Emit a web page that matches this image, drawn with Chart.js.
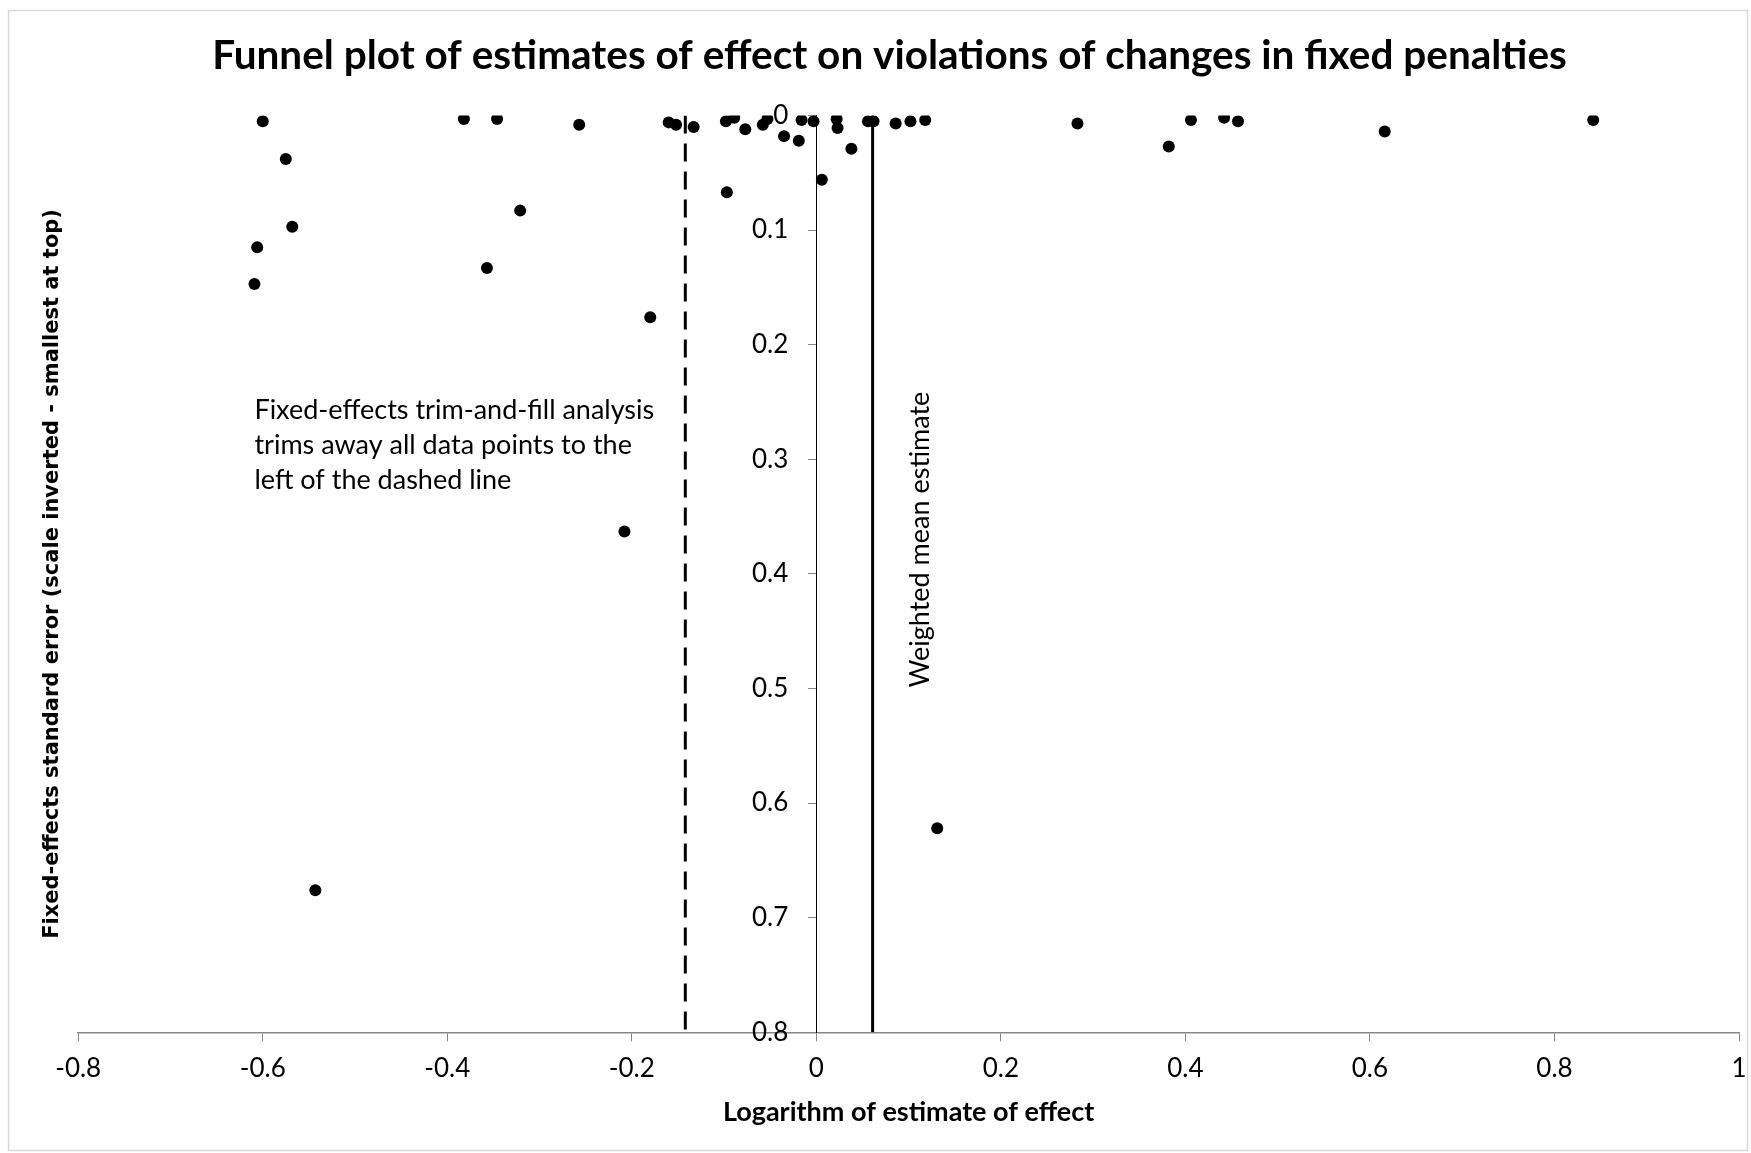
<!DOCTYPE html>
<html>
<head>
<meta charset="utf-8">
<title>Funnel plot</title>
<script src="https://cdn.jsdelivr.net/npm/chart.js@4.4.1/dist/chart.umd.min.js"></script>
<style>
    body { margin: 0; background: #fff; }
    #chart { display: block; }
</style>
</head>
<body>
<canvas id="chart" width="1751" height="1153"></canvas>
<script>
// one point per study: log of the estimate and its fixed-effects standard error
const logEffect = [-0.609, -0.606, -0.600, -0.575, -0.568, -0.543, -0.382, -0.357, -0.346, -0.321,
    -0.257, -0.208, -0.180, -0.160, -0.152, -0.133, -0.098, -0.097, -0.089, -0.077,
    -0.058, -0.053, -0.035, -0.019, -0.016, -0.003, 0.006, 0.022, 0.023, 0.038,
    0.056, 0.062, 0.086, 0.102, 0.118, 0.131, 0.283, 0.382, 0.406, 0.442,
    0.457, 0.616, 0.842];
const stdError = [0.147, 0.115, 0.005, 0.038, 0.097, 0.676, 0.003, 0.133, 0.003, 0.083,
    0.008, 0.363, 0.176, 0.006, 0.008, 0.010, 0.005, 0.067, 0.002, 0.012,
    0.008, 0.003, 0.018, 0.022, 0.004, 0.005, 0.056, 0.003, 0.011, 0.029,
    0.005, 0.005, 0.007, 0.005, 0.004, 0.622, 0.007, 0.027, 0.004, 0.002,
    0.005, 0.014, 0.004];

const xTicks = [-0.8, -0.6, -0.4, -0.2, 0, 0.2, 0.4, 0.6, 0.8, 1];
const yTicks = [0, 0.1, 0.2, 0.3, 0.4, 0.5, 0.6, 0.7, 0.8];

// trim-and-fill cut-off (dashed) and weighted mean (solid)
const trimLineX = -0.142;
const meanLineX = 0.061;
const lineSpan = [0, 0.8];

const noteLines = [
    'Fixed-effects trim-and-fill analysis',
    'trims away all data points to the',
    'left of the dashed line'
];
const noteAt = [-0.609, 0.257];
const meanLabel = 'Weighted mean estimate';
const meanLabelAt = [0.113, 0.370];

const tickFont = '26px Lato';

function verticalLine (xValue) {
    return lineSpan.map(v => ({ x: xValue, y: v }));
}

// light frame round the whole picture
const framePlugin = {
    id: 'frame',
    beforeDraw (chart) {
        const ctx = chart.ctx;
        ctx.save();
        ctx.fillStyle = '#fff';
        ctx.fillRect(0, 0, chart.width, chart.height);
        ctx.strokeStyle = '#d9d9d9';
        ctx.lineWidth = 1.5;
        ctx.strokeRect(8.5, 10.5, chart.width - 12, chart.height - 13);
        ctx.restore();
    }
};

// y tick labels sit left of the axis that crosses at x = 0
const yLabelPlugin = {
    id: 'yLabels',
    afterDraw (chart) {
        const ctx = chart.ctx;
        const x = chart.scales.x;
        const y = chart.scales.y;
        const right = x.getPixelForValue(0) - 28;
        ctx.save();
        ctx.font = tickFont;
        ctx.fillStyle = '#000';
        ctx.textAlign = 'right';
        ctx.textBaseline = 'middle';
        y.ticks.forEach(t => ctx.fillText(String(t.value), right, y.getPixelForValue(t.value)));
        ctx.restore();
    }
};

// the two text notes, placed in data units
const notePlugin = {
    id: 'notes',
    afterDatasetsDraw (chart) {
        const ctx = chart.ctx;
        const x = chart.scales.x;
        const y = chart.scales.y;
        ctx.save();
        ctx.fillStyle = '#000';
        ctx.font = '27px Lato';
        ctx.textBaseline = 'middle';
        ctx.textAlign = 'left';
        const left = x.getPixelForValue(noteAt[0]);
        const top = y.getPixelForValue(noteAt[1]);
        noteLines.forEach((line, i) => ctx.fillText(line, left, top + i * 35));

        ctx.translate(x.getPixelForValue(meanLabelAt[0]), y.getPixelForValue(meanLabelAt[1]));
        ctx.rotate(-Math.PI / 2);
        ctx.textAlign = 'center';
        ctx.fillText(meanLabel, 0, 0);
        ctx.restore();
    }
};

function createChart () {
    const ctx = document.querySelector('#chart').getContext('2d');
    const points = logEffect.map((v, i) => ({ x: v, y: stdError[i] }));

    new Chart(ctx, {
        type: 'scatter',
        data: {
            datasets: [{
                label: 'Estimates',
                data: points,
                yAxisID: 'y',
                backgroundColor: '#000',
                borderWidth: 0,
                pointRadius: 6,
                order: 0
            }, {
                label: 'Trim line',
                data: verticalLine(trimLineX),
                yAxisID: 'y',
                showLine: true,
                borderColor: '#000',
                borderWidth: 3,
                borderDash: [18, 10],
                pointRadius: 0,
                order: 1
            }, {
                label: 'Mean line',
                data: verticalLine(meanLineX),
                yAxisID: 'y',
                showLine: true,
                borderColor: '#000',
                borderWidth: 3,
                pointRadius: 0,
                order: 1
            }]
        },
        options: {
            responsive: false,
            animation: false,
            layout: { padding: { top: 16, left: 40, right: 12, bottom: 20.5 } },
            plugins: {
                legend: { display: false },
                tooltip: { enabled: false },
                title: {
                    display: true,
                    text: 'Funnel plot of estimates of effect on violations of changes in fixed penalties',
                    color: '#000',
                    font: { family: 'Lato', size: 40.5, weight: 'bold' },
                    padding: { top: 15.7, bottom: 35.2 }
                }
            },
            scales: {
                x: {
                    type: 'linear',
                    min: -0.8,
                    max: 1,
                    afterBuildTicks: axis => { axis.ticks = xTicks.map(v => ({ value: v })); },
                    grid: { drawOnChartArea: false, tickLength: 9, color: '#868686' },
                    border: { color: '#868686', width: 1.5 },
                    ticks: {
                        color: '#000',
                        padding: 4,
                        font: { family: 'Lato', size: 26, lineHeight: 1.8 },
                        callback: v => String(v)
                    },
                    title: {
                        display: true,
                        text: 'Logarithm of estimate of effect',
                        color: '#000',
                        font: { family: 'Lato', size: 27, weight: 'bold' },
                        padding: { top: 0, bottom: 4 }
                    }
                },
                y: {
                    type: 'linear',
                    reverse: true,
                    min: 0,
                    max: 0.8,
                    position: { x: 0 },
                    afterBuildTicks: axis => { axis.ticks = yTicks.map(v => ({ value: v })); },
                    grid: { drawOnChartArea: false, tickLength: 8, color: '#868686' },
                    border: { color: '#000', width: 1 },
                    ticks: { display: false }
                },
                // empty axis on the left that only carries the y title
                yTitle: {
                    type: 'linear',
                    position: 'left',
                    min: 0,
                    max: 1,
                    grid: { display: false, drawTicks: false },
                    border: { display: false },
                    ticks: { display: false },
                    title: {
                        display: true,
                        text: 'Fixed-effects standard error (scale inverted - smallest at top)',
                        color: '#000',
                        font: { family: 'DejaVu Sans', size: 21, weight: 'bold' },
                        padding: { top: 0, bottom: 13 }
                    }
                }
            }
        },
        plugins: [framePlugin, yLabelPlugin, notePlugin]
    });
}

Promise.all([
    document.fonts.load('26px Lato'),
    document.fonts.load('bold 26px Lato'),
    document.fonts.load('bold 18px "DejaVu Sans"')
]).then(createChart, createChart);
</script>
</body>
</html>
